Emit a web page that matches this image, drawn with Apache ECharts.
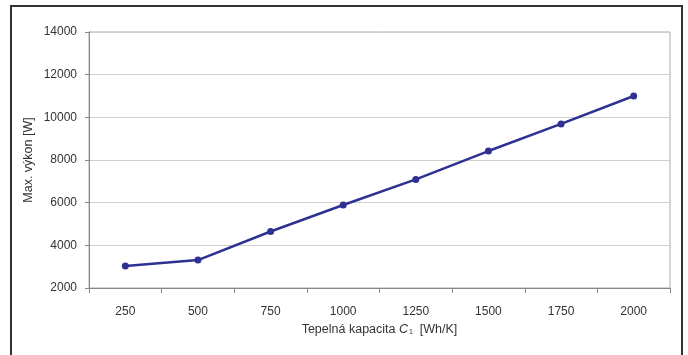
<!DOCTYPE html>
<html><head><meta charset="utf-8">
<script src="https://cdn.jsdelivr.net/npm/echarts@6/dist/echarts.min.js"></script>
<style>html,body{margin:0;padding:0;background:#fff}#c{width:688px;height:355px}
#frame{position:absolute;left:10px;top:5px;width:673px;height:360px;border:2px solid #333;box-sizing:border-box;pointer-events:none}</style>
</head><body><div id="c"></div><div id="frame"></div>
<script>
var categories = ['250','500','750','1000','1250','1500','1750','2000'];
var values = [3030, 3310, 4650, 5890, 7090, 8420, 9690, 11000];
var yTicks = {min: 2000, max: 14000, interval: 2000};

var chart = echarts.init(document.getElementById('c'), null, {renderer: 'canvas'});
var font = 'Liberation Sans, Arial, sans-serif';
chart.setOption({
  animation: false,
  grid: {left: 89, top: 32, right: 18, bottom: 67, show: true, borderColor: '#aaa', borderWidth: 1},
  xAxis: {
    type: 'category', data: categories, boundaryGap: true,
    axisLine: {lineStyle: {color: '#888', width: 1}},
    axisTick: {show: true, length: 5, lineStyle: {color: '#888'}},
    axisLabel: {color: '#333', fontSize: 12, fontFamily: font, margin: 18},
    name: '{n|Tepelná kapacita }{i|C}{s|1}{n|  [Wh/K]}',
    nameLocation: 'middle', nameGap: 35,
    nameTextStyle: {
      rich: {
        n: {fontSize: 12.5, color: '#333', fontFamily: font},
        i: {fontSize: 12.5, color: '#333', fontFamily: font, fontStyle: 'italic'},
        s: {fontSize: 7, color: '#333', fontFamily: font, padding: [6, 0, 0, 1]}
      }
    }
  },
  yAxis: {
    type: 'value', min: yTicks.min, max: yTicks.max, interval: yTicks.interval,
    axisLine: {show: true, lineStyle: {color: '#888', width: 1}},
    axisTick: {show: true, length: 4, lineStyle: {color: '#888'}},
    axisLabel: {color: '#333', fontSize: 12, fontFamily: font, margin: 12,
      formatter: function (v) { return String(v); }},
    splitLine: {lineStyle: {color: '#d0d0d0', width: 1}},
    name: 'Max. výkon [W]', nameLocation: 'middle', nameGap: 54, nameMoveOverlap: false,
    nameTextStyle: {fontSize: 12.5, color: '#333', fontFamily: font}
  },
  series: [{
    type: 'line', data: values,
    lineStyle: {color: '#2e3192', width: 2.5},
    itemStyle: {color: '#2e3192'},
    symbol: 'circle', symbolSize: 7
  }]
});
</script></body></html>
